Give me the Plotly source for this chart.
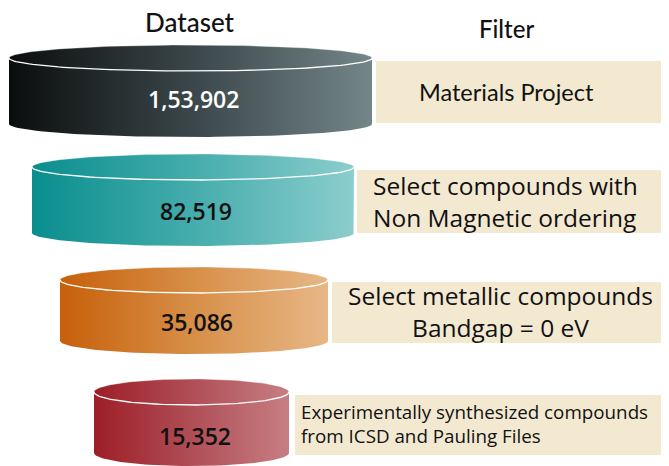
import numpy as np
import plotly.graph_objects as go

# ---- data ----
stages = ["Materials Project", "Non Magnetic", "Metallic", "Experimental"]
counts = [153902, 82519, 35086, 15352]
filter_lines = [
    ["Materials Project"],
    ["Select compounds with", "Non Magnetic ordering"],
    ["Select metallic compounds", "Bandgap = 0 eV"],
    ["Experimentally synthesized compounds", "from ICSD and Pauling Files"],
]


def indian_format(n):
    s = str(n)
    if len(s) <= 3:
        return s
    head, tail = s[:-3], s[-3:]
    groups = []
    while len(head) > 2:
        groups.insert(0, head[-2:])
        head = head[:-2]
    if head:
        groups.insert(0, head)
    return ",".join(groups) + "," + tail


# ---- layout / style ----
W, H = 669, 466
cyl_geom = [  # left, right, top centre y, bottom centre y, radius y
    (9, 372, 58, 124, 13),
    (32, 354, 167, 233, 13),
    (60, 328, 280, 341, 13),
    (94, 289, 392, 453, 13),
]
cyl_scales = [
    [[0, "#0b0d0d"], [0.5, "#3a4649"], [1, "#748688"]],
    [[0, "#0a8e8e"], [0.5, "#45acac"], [1, "#8ccdcd"]],
    [[0, "#c7600a"], [0.5, "#d78f48"], [1, "#e7b786"]],
    [[0, "#9d1e27"], [0.5, "#b04e56"], [1, "#c67e83"]],
]
label_colors = ["white", "#111111", "#111111", "#111111"]
label_dy = [8, 11, 11, 13]

box_geom = [  # x0, x1, y0, y1
    (376, 661, 61, 123),
    (357, 661, 170, 233),
    (332, 661, 282, 343),
    (295, 661, 395, 455),
]
box_text = [  # anchor x, xanchor, text centre y, font size, family
    (506, "center", 92, 23.5, "Lato"),
    (371, "left", 201, 24.5, "Open Sans"),
    (500, "center", 311, 24.5, "Open Sans"),
    (299, "left", 424, 18.8, "Open Sans"),
]
BOX_FILL = "#f3e9d1"

fig = go.Figure()
t = np.linspace(0, np.pi, 80)

for i, (L, R, yt, yb, ry) in enumerate(cyl_geom):
    cx, rx = (L + R) / 2, (R - L) / 2
    # body: back arc of top ellipse, right side, front arc of bottom ellipse
    top_back_x = cx - rx * np.cos(t)
    top_back_y = yt - ry * np.sin(t)
    bot_front_x = cx + rx * np.cos(t)
    bot_front_y = yb + ry * np.sin(t)
    xs = np.concatenate([top_back_x, bot_front_x, [top_back_x[0]]])
    ys = np.concatenate([top_back_y, bot_front_y, [top_back_y[0]]])
    fig.add_trace(go.Scatter(
        x=xs, y=ys, mode="lines", fill="toself",
        line=dict(width=0, color="rgba(0,0,0,0)"),
        fillgradient=dict(type="horizontal", colorscale=cyl_scales[i]),
        hoverinfo="skip",
    ))
    # white rim on the top ellipse
    fig.add_trace(go.Scatter(
        x=cx - rx * np.cos(t), y=yt + ry * np.sin(t), mode="lines",
        line=dict(color="white", width=1.3), hoverinfo="skip",
    ))
    fig.add_trace(go.Scatter(
        x=top_back_x, y=top_back_y, mode="lines",
        line=dict(color="rgba(255,255,255,0.35)", width=1), hoverinfo="skip",
    ))
    fig.add_annotation(
        x=cx + 3, y=(yt + yb) / 2 + label_dy[i], text=indian_format(counts[i]),
        showarrow=False, xref="x", yref="y",
        font=dict(family="Open Sans", size=23, weight=600, color=label_colors[i]),
    )

for i, (x0, x1, y0, y1) in enumerate(box_geom):
    fig.add_shape(type="rect", x0=x0, x1=x1, y0=y0, y1=y1,
                  xref="x", yref="y", fillcolor=BOX_FILL, line=dict(width=0),
                  layer="below")
    ax, anchor, cy, size, fam = box_text[i]
    fig.add_annotation(
        x=ax, y=cy, text="<br>".join(filter_lines[i]), showarrow=False,
        xref="x", yref="y", xanchor=anchor, yanchor="middle", align=anchor,
        font=dict(family=fam, size=size, color="#111111"),
    )

fig.add_annotation(x=190, y=22, text="Dataset", showarrow=False, xref="x", yref="y",
                   font=dict(family="Lato", size=26, weight=500, color="#111111"))
fig.add_annotation(x=506, y=28, text="Filter", showarrow=False, xref="x", yref="y",
                   font=dict(family="Lato", size=24, weight=500, color="#111111"))

fig.update_layout(
    width=W, height=H, margin=dict(l=0, r=0, t=0, b=0),
    paper_bgcolor="white", plot_bgcolor="white", showlegend=False,
    xaxis=dict(range=[0, W], visible=False, fixedrange=True),
    yaxis=dict(range=[H, 0], visible=False, fixedrange=True),
)
fig.write_html("out.html")
